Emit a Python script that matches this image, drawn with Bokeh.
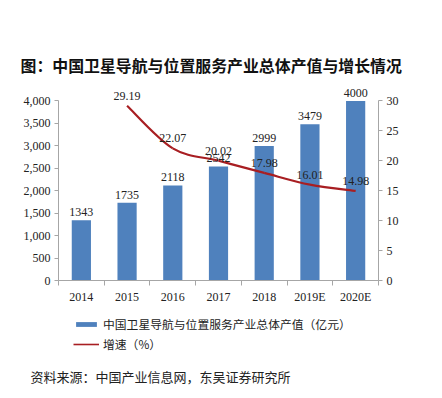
from bokeh.plotting import figure
from bokeh.models import (Range1d, LinearAxis, FixedTicker, NumeralTickFormatter,
                          ColumnDataSource, Title, Legend, LegendItem, LabelSet, Label)
from bokeh.embed import file_html
from bokeh.resources import INLINE

years = ["2014", "2015", "2016", "2017", "2018", "2019E", "2020E"]
output_value = [1343, 1735, 2118, 2542, 2999, 3479, 4000]
growth_years = ["2015", "2016", "2017", "2018", "2019E", "2020E"]
growth = [29.19, 22.07, 20.02, 17.98, 16.01, 14.98]

title_text = "图：中国卫星导航与位置服务产业总体产值与增长情况"
bar_name = "中国卫星导航与位置服务产业总体产值（亿元）"
line_name = "增速（%）"
source_text = "资料来源：中国产业信息网，东吴证券研究所"

BLUE = "#4F81BD"
RED = "#A81E22"
SERIF = "Liberation Serif"
CJK = "Noto Sans CJK SC"

W = 442
H1, H2 = 306, 92
FL, FR, FT, FB = 58, 64, 87, 23

xr = Range1d(-0.5, len(years) - 0.5)
yr = Range1d(0, 4300)

p = figure(width=W, height=H1, x_range=xr, y_range=yr, output_backend="svg",
           toolbar_location=None, min_border_left=FL, min_border_right=FR,
           min_border_top=FT, min_border_bottom=FB)
p.outline_line_color = None
p.grid.grid_line_color = None

xs = list(range(len(years)))
src = ColumnDataSource(dict(x=xs, v=output_value, lab=[str(v) for v in output_value]))
bars = p.vbar(x="x", top="v", width=0.42, source=src, fill_color=BLUE, line_color=None)
p.add_layout(LabelSet(x="x", y="v", text="lab", source=src, text_align="center",
                      text_baseline="bottom", y_offset=4, text_font=SERIF,
                      text_font_size="12px", text_color="#222222"))

p.extra_y_ranges = {"g": Range1d(0, 30 * 4300 / 4000)}
gx = [years.index(y) for y in growth_years]
n = len(gx)
x0s, y0s, x1s, y1s, cx0, cy0, cx1, cy1 = [], [], [], [], [], [], [], []
for i in range(n - 1):
    a = max(i - 1, 0); b = i; c = i + 1; d = min(i + 2, n - 1)
    x0s.append(gx[b]); y0s.append(growth[b]); x1s.append(gx[c]); y1s.append(growth[c])
    cx0.append(gx[b] + (gx[c] - gx[a]) / 6); cy0.append(growth[b] + (growth[c] - growth[a]) / 6)
    cx1.append(gx[c] - (gx[d] - gx[b]) / 6); cy1.append(growth[c] - (growth[d] - growth[b]) / 6)
p.bezier(x0=x0s, y0=y0s, x1=x1s, y1=y1s, cx0=cx0, cy0=cy0, cx1=cx1, cy1=cy1,
         line_color=RED, line_width=2.2, y_range_name="g")
gsrc = ColumnDataSource(dict(x=gx, v=growth, lab=["%.2f" % g for g in growth]))
p.add_layout(LabelSet(x="x", y="v", text="lab", source=gsrc, y_range_name="g",
                      text_align="center", text_baseline="bottom", y_offset=6,
                      text_font=SERIF, text_font_size="12px", text_color="#222222"))

AX = "#A6A6A6"
la = p.yaxis[0]
la.ticker = FixedTicker(ticks=list(range(0, 4001, 500)))
la.formatter = NumeralTickFormatter(format="0,0")
la.bounds = (0, 4000)
ra = LinearAxis(y_range_name="g", ticker=FixedTicker(ticks=list(range(0, 31, 5))),
                bounds=(0, 30))
p.add_layout(ra, "right")
for ax in (la, ra):
    ax.axis_line_color = AX
    ax.major_tick_line_color = AX
    ax.major_tick_in = 0
    ax.major_tick_out = 4
    ax.minor_tick_line_color = None
    ax.major_label_text_font = SERIF
    ax.major_label_text_font_size = "12px"
    ax.major_label_text_color = "#222222"
    ax.major_label_standoff = 4

xa = p.xaxis[0]
xa.ticker = FixedTicker(ticks=xs, minor_ticks=[i - 0.5 for i in range(len(years) + 1)])
xa.major_label_overrides = {i: y for i, y in enumerate(years)}
xa.major_tick_line_color = None
xa.minor_tick_line_color = AX
xa.minor_tick_in = 0
xa.minor_tick_out = 5
xa.axis_line_color = AX
xa.major_label_text_font = SERIF
xa.major_label_text_font_size = "12px"
xa.major_label_text_color = "#222222"
xa.major_label_standoff = 3

p.add_layout(Title(text=title_text, align="left", text_font=CJK,
                   text_font_style="bold", text_font_size="15.9px",
                   text_color="#111111", standoff=22, offset=-38), "above")

# legend + source panel (separate root, so it is not aligned to the chart frame)
q = figure(width=W, height=H2, x_range=Range1d(0, W), y_range=Range1d(H2, 0),
           output_backend="svg", toolbar_location=None, min_border=0,
           x_axis_type=None, y_axis_type=None)
q.outline_line_color = None
q.grid.grid_line_color = None
nan = float("nan")
lb = q.vbar(x=[nan], top=[nan], width=1, fill_color=BLUE, line_color=None)
ll = q.line(x=[nan], y=[nan], line_color=RED, line_width=1.6)
legend = Legend(items=[LegendItem(label=bar_name, renderers=[lb]),
                       LegendItem(label=line_name, renderers=[ll])],
                location=(73, 46), orientation="vertical", padding=0, margin=0,
                spacing=3, glyph_width=26, glyph_height=6, label_height=14,
                label_text_font=CJK, label_text_font_size="11.8px",
                label_text_color="#222222", border_line_color=None,
                background_fill_alpha=0, label_standoff=4)
q.add_layout(legend, "center")
q.add_layout(Label(x=30, y=376 - H1, text=source_text, text_align="left",
                   text_baseline="middle", text_font=CJK, text_font_size="13px",
                   text_color="#222222"))

open("out.html", "w").write(file_html([p, q], INLINE))
